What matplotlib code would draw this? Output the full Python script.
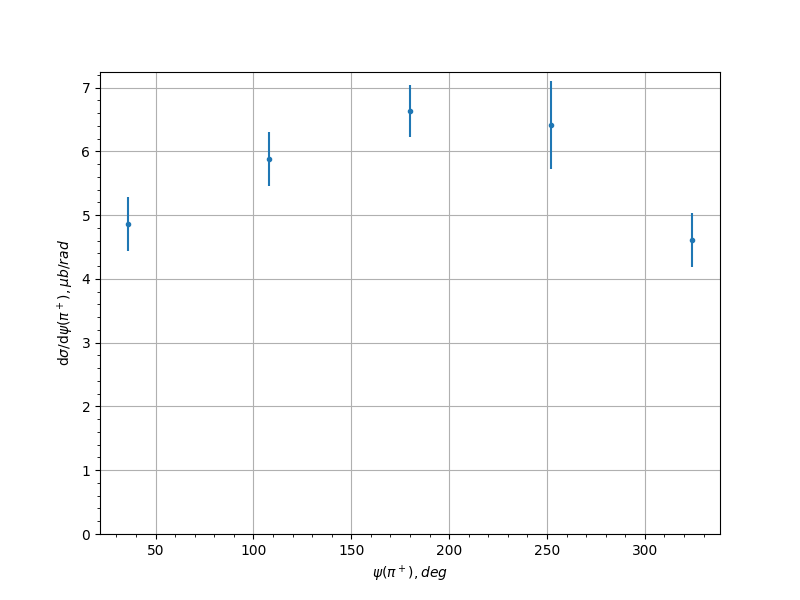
import matplotlib.pyplot as plt
import numpy as np

# psi angle bin centres, deg
psi = [36, 108, 180, 252, 324]
dsig = [4.86, 5.88, 6.63, 6.41, 4.61]
dsig_err = [0.42, 0.43, 0.41, 0.69, 0.42]

fig, ax = plt.subplots(figsize=(8, 6), dpi=100)
ax.errorbar(psi, dsig, yerr=dsig_err, fmt='.')
ax.set_ylim(bottom=0)
ax.set_xlabel(r"$\psi(\pi^+), deg$")
ax.set_ylabel(r"d$\sigma$/d$\psi(\pi^+), \mu b/rad$")
ax.minorticks_on()
ax.grid(True)

fig.savefig("out.png")
